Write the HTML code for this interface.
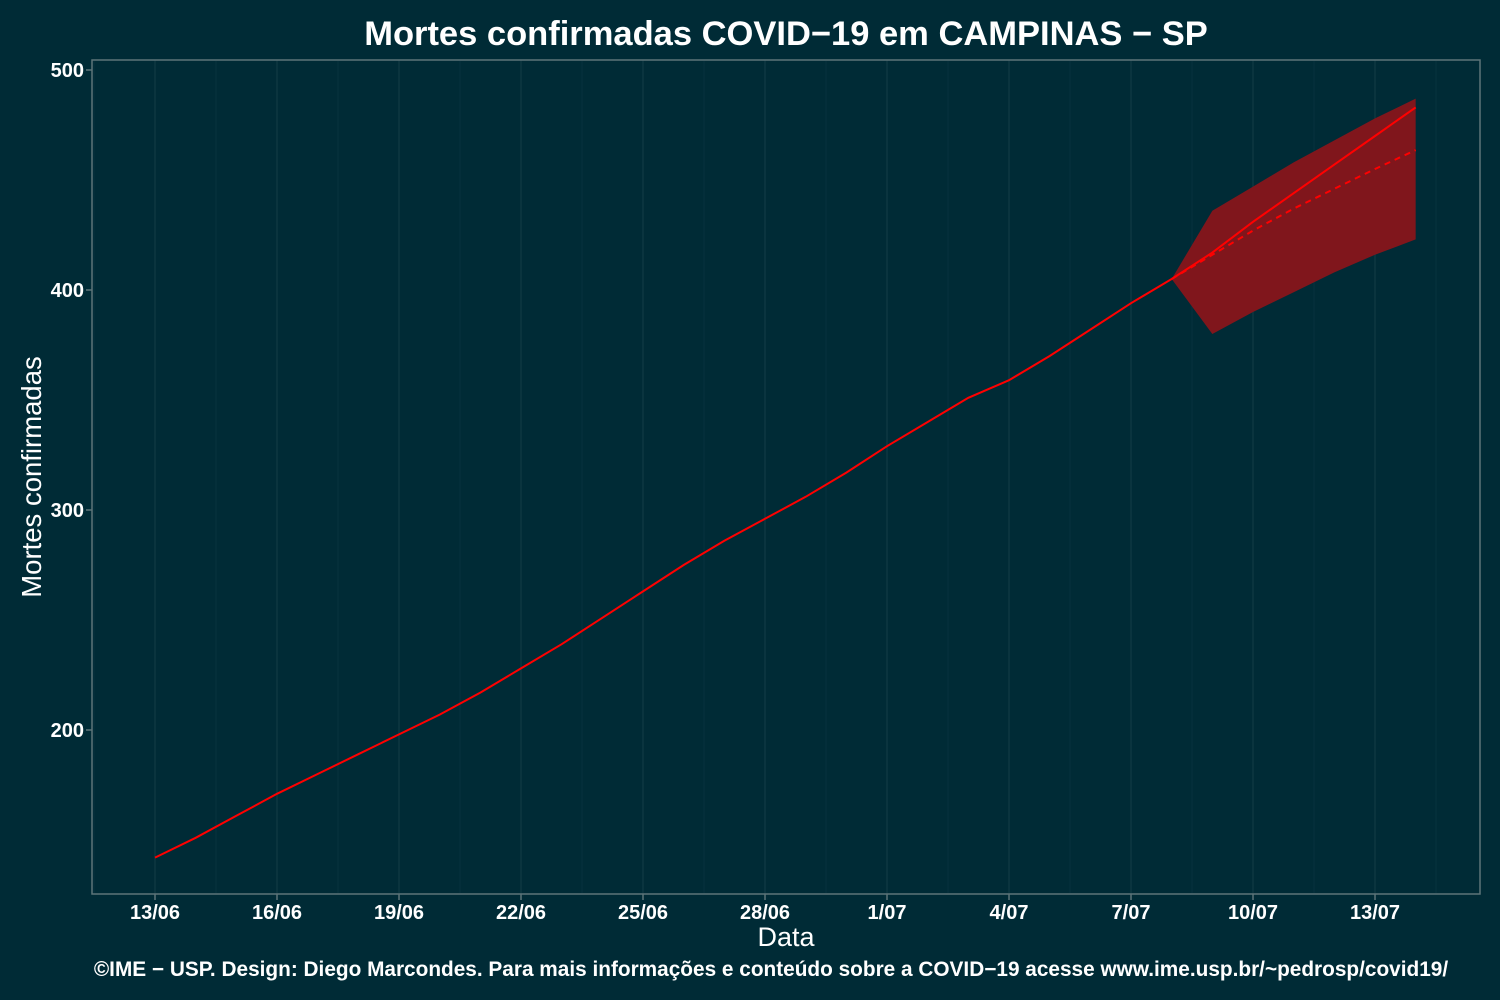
<!DOCTYPE html>
<html><head><meta charset="utf-8"><style>
html,body{margin:0;padding:0;background:#002b36;}
svg{display:block;font-family:"Liberation Sans",sans-serif;}
</style></head><body>
<svg id="chart" width="1500" height="1000">
<rect x="0" y="0" width="1500" height="1000" fill="#002b36"/>
<g id="grid"></g>
<g id="marks"></g>
<rect x="92" y="60" width="1388" height="834" fill="none" stroke="#5d7478" stroke-width="1.5"/>
<g id="axes"></g>
<text x="786" y="45" text-anchor="middle" fill="#ffffff" font-size="34.5" font-weight="bold">Mortes confirmadas COVID−19 em CAMPINAS − SP</text>
<text x="786" y="946" text-anchor="middle" fill="#ffffff" font-size="27">Data</text>
<text transform="translate(41,477) rotate(-90)" text-anchor="middle" fill="#ffffff" font-size="27.5">Mortes confirmadas</text>
<text x="771" y="976" text-anchor="middle" fill="#ffffff" font-size="20.8" font-weight="bold">©IME − USP. Design: Diego Marcondes. Para mais informações e conteúdo sobre a COVID−19 acesse www.ime.usp.br/~pedrosp/covid19/</text>
</svg>
<script>
const observed = [142,151,161,171,180,189,198,207,217,228,239,251,263,275,286,296,306,317,329,340,351,359,370,382,394,405];
const forecastSolid = [405,417,431,444,457,470,483];
const forecastDashed = [405,416,427,437,446,455,463.6];
const bandUpper = [405,436,447,458,468,478,487];
const bandLower = [405,380,390,399,408,416,423];
const xTickLabels = ["13/06","16/06","19/06","22/06","25/06","28/06","1/07","4/07","7/07","10/07","13/07"];
const xTickDays = [0,3,6,9,12,15,18,21,24,27,30];
const yTicks = [200,300,400,500];

const NS="http://www.w3.org/2000/svg";
function X(d){return 155+d*40.667;}
function Y(v){return 70+(500-v)*2.2;}
function mk(tag,attrs,parent){const e=document.createElementNS(NS,tag);for(const k in attrs)e.setAttribute(k,attrs[k]);parent.appendChild(e);return e;}
const grid=document.getElementById('grid'),marks=document.getElementById('marks'),axes=document.getElementById('axes');
const fStart=observed.length-1;

for(let k=-1;k<=22;k++){
  const d=k*1.5;
  if(X(d)<=92||X(d)>=1480)continue;
  const major=(k%2===0);
  const g=mk('line',{x1:X(d),x2:X(d),y1:60,y2:894,stroke:major?'#0f3a44':'#07333e','stroke-width':major?1.3:1},grid);
  
  
}
let up=bandUpper.map((v,i)=>X(fStart+i)+','+Y(v)).join(' ');
let lo=bandLower.map((v,i)=>X(fStart+i)+','+Y(v)).reverse().join(' ');
const band=mk('polygon',{points:up+' '+lo,fill:'#80161c'},marks);


const obs=mk('polyline',{points:observed.map((v,i)=>X(i)+','+Y(v)).join(' '),fill:'none',stroke:'#ff0000','stroke-width':2},marks);


const fs=mk('polyline',{points:forecastSolid.map((v,i)=>X(fStart+i)+','+Y(v)).join(' '),fill:'none',stroke:'#ff0000','stroke-width':2},marks);


const fd=mk('polyline',{points:forecastDashed.map((v,i)=>X(fStart+i)+','+Y(v)).join(' '),fill:'none',stroke:'#ff0000','stroke-width':2,'stroke-dasharray':'6,5'},marks);



xTickDays.forEach((d,i)=>{
  const t=mk('line',{x1:X(d),x2:X(d),y1:894,y2:900,stroke:'#5d7478','stroke-width':1.5},axes);
  
  
  const l=mk('text',{x:X(d),y:919,'text-anchor':'middle',fill:'#ffffff','font-size':20,'font-weight':'bold'},axes);
  l.textContent=xTickLabels[i];
  
  
});
yTicks.forEach(v=>{
  const t=mk('line',{x1:86,x2:92,y1:Y(v),y2:Y(v),stroke:'#5d7478','stroke-width':1.5},axes);
  
  
  const l=mk('text',{x:84,y:Y(v)+7,'text-anchor':'end',fill:'#ffffff','font-size':20,'font-weight':'bold'},axes);
  l.textContent=v;
  
  
});
</script>
</body></html>
